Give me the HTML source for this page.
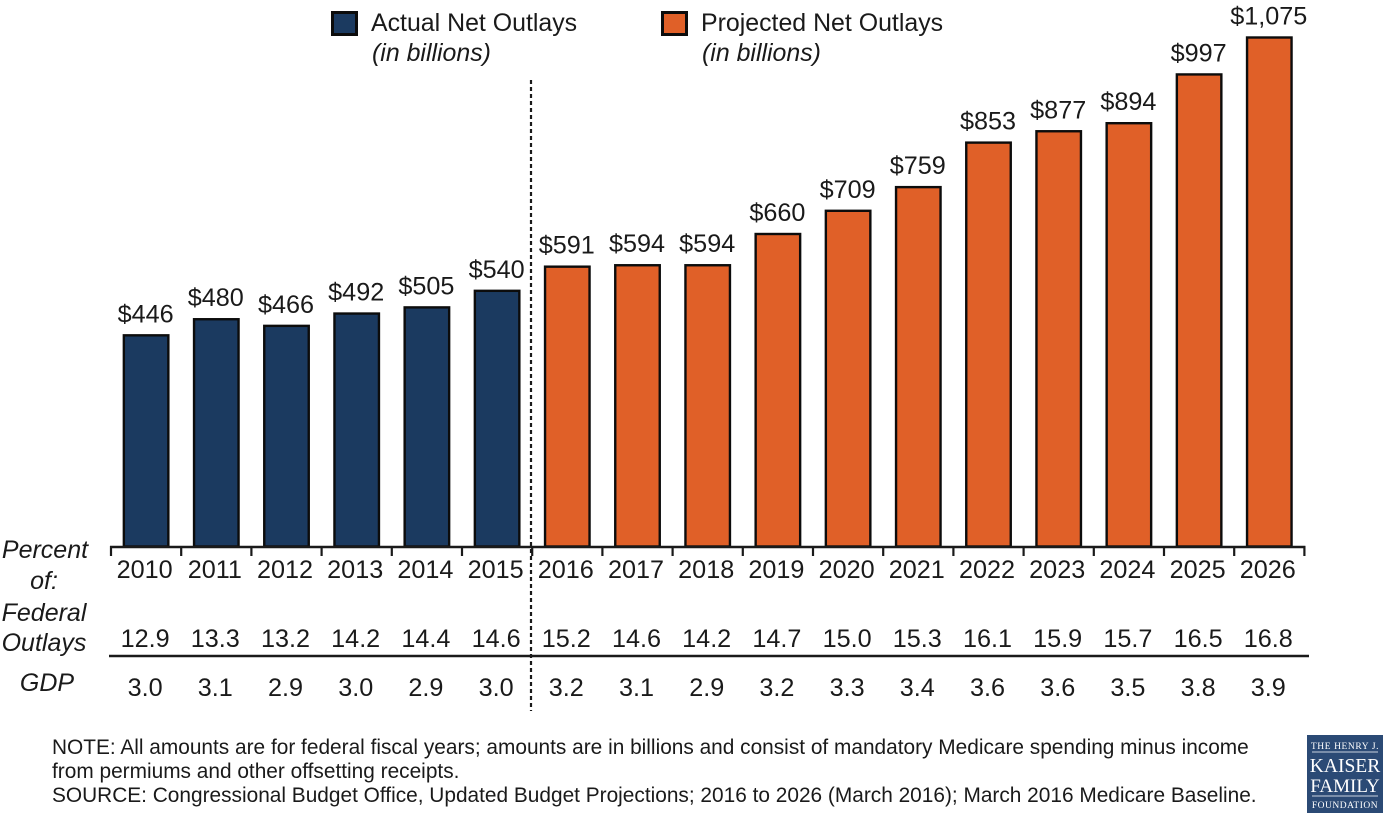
<!DOCTYPE html>
<html><head><meta charset="utf-8"><title>Medicare Net Outlays</title>
<style>
html,body{margin:0;padding:0;background:#fff;width:1384px;height:813px;overflow:hidden}
svg{display:block}
text{font-family:"Liberation Sans",Arial,sans-serif;fill:#1a1a1a}
.it{font-style:italic}
</style></head>
<body>
<svg id="chart" width="1384" height="813" viewBox="0 0 1384 813">
  <g id="bars"></g>
  <g id="rows"></g>
  <g>
    <rect x="332.5" y="12.5" width="24" height="22" fill="#1b3a60" stroke="#0c0c0c" stroke-width="3"/>
    <text x="371" y="31" font-size="24.9">Actual Net Outlays</text>
    <text x="372" y="61" font-size="24.9" class="it">(in billions)</text>
  </g>
  <g>
    <rect x="662.5" y="12.5" width="24" height="22" fill="#e06028" stroke="#0c0c0c" stroke-width="3"/>
    <text x="701" y="31" font-size="24.9">Projected Net Outlays</text>
    <text x="702" y="61" font-size="24.9" class="it">(in billions)</text>
  </g>
  <line x1="531" y1="80" x2="531" y2="711" stroke="#1a1a1a" stroke-width="2.2" stroke-dasharray="4 3"/>
  <g font-size="25" class="it" text-anchor="middle">
    <text x="45" y="558" class="it">Percent</text>
    <text x="44" y="589" class="it">of:</text>
    <text x="44" y="621" class="it">Federal</text>
    <text x="44" y="651" class="it">Outlays</text>
    <text x="47" y="691" class="it">GDP</text>
  </g>
  <line x1="109" y1="656" x2="1309" y2="656" stroke="#1a1a1a" stroke-width="2.4"/>
  <g font-size="20.85">
    <text x="52" y="754">NOTE: All amounts are for federal fiscal years; amounts are in billions and consist of mandatory Medicare spending minus income</text>
    <text x="52" y="778">from permiums and other offsetting receipts.</text>
    <text x="52" y="802">SOURCE: Congressional Budget Office, Updated Budget Projections; 2016 to 2026 (March 2016); March 2016 Medicare Baseline.</text>
  </g>
  <g>
    <rect x="1307" y="735" width="76" height="78" fill="#2b4a75"/>
    <g text-anchor="middle" style="font-family:'Liberation Serif',serif">
      <text x="1345" y="749" font-size="9.5" letter-spacing=".6" style="fill:#fff;font-family:'Liberation Serif',serif">THE HENRY J.</text>
      <text x="1345" y="772" font-size="19.5" style="fill:#fff;font-family:'Liberation Serif',serif">KAISER</text>
      <text x="1345" y="792" font-size="19" style="fill:#fff;font-family:'Liberation Serif',serif">FAMILY</text>
      <text x="1345" y="808" font-size="9.5" letter-spacing=".5" style="fill:#fff;font-family:'Liberation Serif',serif">FOUNDATION</text>
    </g>
    <line x1="1312" y1="752" x2="1378" y2="752" stroke="#c8d2e0" stroke-width="1"/>
    <line x1="1312" y1="796" x2="1378" y2="796" stroke="#c8d2e0" stroke-width="1"/>
  </g>
</svg>
<script>
const years = ['2010','2011','2012','2013','2014','2015','2016','2017','2018','2019','2020','2021','2022','2023','2024','2025','2026'];
const outlays = [446,480,466,492,505,540,591,594,594,660,709,759,853,877,894,997,1075];
const valueLabels = ['$446','$480','$466','$492','$505','$540','$591','$594','$594','$660','$709','$759','$853','$877','$894','$997','$1,075'];
const federalShare = ['12.9','13.3','13.2','14.2','14.4','14.6','15.2','14.6','14.2','14.7','15.0','15.3','16.1','15.9','15.7','16.5','16.8'];
const gdpShare = ['3.0','3.1','2.9','3.0','2.9','3.0','3.2','3.1','2.9','3.2','3.3','3.4','3.6','3.6','3.5','3.8','3.9'];
const firstProjectedYear = '2016';

const NS = 'http://www.w3.org/2000/svg';
const axisLeft = 111, bandStep = 70.2, barWidth = 44.5;
const baseY = 546.5, pxPerUnit = 509 / 1075;
const xBand = i => axisLeft + bandStep * i;
const xCenter = i => xBand(i) + bandStep / 2;
const yScale = v => baseY - v * pxPerUnit;
const barsG = document.getElementById('bars');
const rowsG = document.getElementById('rows');

function mk(parent, tag, attrs, txt) {
  const el = document.createElementNS(NS, tag);
  for (const k in attrs) el.setAttribute(k, attrs[k]);
  if (txt !== undefined) el.textContent = txt;
  parent.appendChild(el);
  return el;
}

years.forEach((yr, i) => {
  const projected = yr >= firstProjectedYear;
  const top = yScale(outlays[i]);
  const bar = mk(barsG, 'rect', {
    x: xCenter(i) - barWidth / 2, y: top, width: barWidth, height: baseY - top,
    fill: projected ? '#e06028' : '#1b3a60', stroke: '#0c0c0c', 'stroke-width': 2.4
  });
  
  

  const val = mk(barsG, 'text', {
    x: xCenter(i) - 0.5, y: top - 13, 'font-size': 25.2, 'text-anchor': 'middle'
  }, valueLabels[i]);
  
  

  const yl = mk(rowsG, 'text', {
    x: xCenter(i) - 1.5, y: 578, 'font-size': 25.2, 'text-anchor': 'middle'
  }, yr);
  
  

  const fs = mk(rowsG, 'text', {
    x: xCenter(i) - 1, y: 647, 'font-size': 25.2, 'text-anchor': 'middle'
  }, federalShare[i]);
  
  

  const gs = mk(rowsG, 'text', {
    x: xCenter(i) - 1, y: 696, 'font-size': 25.2, 'text-anchor': 'middle'
  }, gdpShare[i]);
  
  
});

const axis = mk(barsG, 'line', {
  x1: xBand(0) - 1, y1: 547, x2: xBand(years.length) + 1, y2: 547, stroke: '#1a1a1a', 'stroke-width': 2.4
});



for (let i = 0; i <= years.length; i++) {
  const t = mk(barsG, 'line', {
    x1: xBand(i), y1: 546, x2: xBand(i), y2: 556, stroke: '#1a1a1a', 'stroke-width': 2.2
  });
  
  
}
</script>
</body></html>
